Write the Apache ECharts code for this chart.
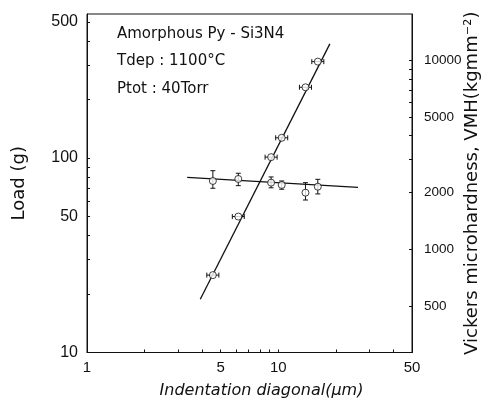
<!DOCTYPE html>
<html>
<head>
<meta charset="utf-8">
<script src="https://cdn.jsdelivr.net/npm/echarts@6/dist/echarts.min.js"></script>
<style>html,body{margin:0;padding:0;background:#fff;}#c{width:488px;height:401px;}</style>
</head>
<body>
<div id="c"></div>
<script>
// ---- data ----
const diagonal = [4.55, 6.18, 9.17, 10.42, 13.87, 16.09];          // indentation diagonal (um)
const diagonalLow = [4.23, 5.75, 8.53, 9.69, 12.9, 14.97];
const diagonalHigh = [4.89, 6.64, 9.86, 11.2, 14.91, 17.3];
const load = [25.0, 50.0, 101, 127, 231, 313];                       // load (g)
const hardness = [2304, 2361, 2257, 2195, 1998, 2149];               // VMH (kg mm^-2)
const hardnessLow = [2108, 2176, 2120, 2083, 1827, 1967];
const hardnessHigh = [2612, 2531, 2420, 2304, 2257, 2351];
const loadFitD = [3.91, 18.6];
const loadFitLoad = [18.8, 386];
const hardFitD = [3.34, 26.1];
const hardFitH = [2410, 2133];

const xTicks = [1,2,3,4,5,6,7,8,9,10,20,30,40,50];
const xLabels = [1,5,10,50];
const leftTicks = [10,20,30,40,50,60,70,80,90,100,200,300,400,500];
const leftLabels = [10,50,100,500];
const rightTicks = [500,1000,2000,3000,4000,5000,6000,7000,8000,9000,10000];
const rightLabels = [500,1000,2000,5000,10000];

const ink = '#111';
const fontFam = 'DejaVu Sans';
const chart = echarts.init(document.getElementById('c'));

function axisCommon(ticks, labels, fontSize, margin) {
  return {
    axisLine: {show: true, lineStyle: {color: ink, width: 1}},
    axisTick: {show: true, inside: true, length: 3, customValues: ticks, lineStyle: {color: ink, width: 1}},
    axisLabel: {customValues: labels, color: ink, fontSize: fontSize, fontFamily: 'Liberation Sans', margin: margin,
      formatter: v => String(Math.round(v))},
    splitLine: {show: false},
    minorTick: {show: false},
    nameMoveOverlap: false
  };
}

const option = {
  animation: false,
  backgroundColor: '#fff',
  grid: {left: 87, right: 76, top: 14, bottom: 48.5, containLabel: false, outerBoundsMode: 'none',
    show: true, borderColor: ink, borderWidth: 1, backgroundColor: 'transparent'},
  xAxis: Object.assign({
    type: 'log', logBase: 10, min: 1, max: 50,
    name: 'Indentation diagonal(μm)', nameLocation: 'middle', nameGap: 30,
    nameTextStyle: {color: ink, fontSize: 16, fontFamily: fontFam, fontStyle: 'italic', padding: [0, 0, 0, 24]}
  }, axisCommon(xTicks, xLabels, 15, 8)),
  yAxis: [
    Object.assign({
      type: 'log', logBase: 10, min: 10, max: 550, position: 'left',
      name: 'Load (g)', nameLocation: 'middle', nameGap: 59, nameRotate: 90,
      nameTextStyle: {color: ink, fontSize: 18, fontFamily: fontFam}
    }, axisCommon(leftTicks, leftLabels, 16, 9)),
    Object.assign({
      type: 'log', logBase: 10, min: 285, max: 17620, position: 'right',
      name: 'Vickers microhardness, VMH(kgmm⁻²)', nameLocation: 'middle', nameGap: 51, nameRotate: 90,
      nameTextStyle: {color: ink, fontSize: 18, fontFamily: fontFam}
    }, axisCommon(rightTicks, rightLabels, 13.5, 12))
  ],
  graphic: [
    {type: 'text', left: 117, top: 27, style: {text: 'Amorphous Py - Si3N4', font: '15px "DejaVu Sans"', fill: ink}},
    {type: 'text', left: 117, top: 54, style: {text: 'Tdep : 1100°C', font: '15px "DejaVu Sans"', fill: ink}},
    {type: 'text', left: 117, top: 82, style: {text: 'Ptot : 40Torr', font: '15px "DejaVu Sans"', fill: ink}}
  ],
  series: [
    {type: 'line', xAxisIndex: 0, yAxisIndex: 0, data: loadFitD.map((d, i) => [d, loadFitLoad[i]]),
     showSymbol: false, lineStyle: {color: ink, width: 1.3}, z: 1},
    {type: 'line', xAxisIndex: 0, yAxisIndex: 1, data: hardFitD.map((d, i) => [d, hardFitH[i]]),
     showSymbol: false, lineStyle: {color: ink, width: 1.3}, z: 1},
    {type: 'custom', xAxisIndex: 0, yAxisIndex: 0, z: 2,
     data: diagonal.map((d, i) => [diagonalLow[i], diagonalHigh[i], load[i]]),
     encode: {x: [0, 1], y: 2},
     renderItem: (params, api) => {
       const a = api.coord([api.value(0), api.value(2)]);
       const b = api.coord([api.value(1), api.value(2)]);
       const c = 2.5, st = {stroke: ink, lineWidth: 1};
       return {type: 'group', children: [
         {type: 'line', shape: {x1: a[0], y1: a[1], x2: b[0], y2: b[1]}, style: st},
         {type: 'line', shape: {x1: a[0], y1: a[1] - c, x2: a[0], y2: a[1] + c}, style: st},
         {type: 'line', shape: {x1: b[0], y1: b[1] - c, x2: b[0], y2: b[1] + c}, style: st}
       ]};
     }},
    {type: 'custom', xAxisIndex: 0, yAxisIndex: 1, z: 2,
     data: diagonal.map((d, i) => [d, hardnessLow[i], hardnessHigh[i]]),
     encode: {x: 0, y: [1, 2]},
     renderItem: (params, api) => {
       const a = api.coord([api.value(0), api.value(1)]);
       const b = api.coord([api.value(0), api.value(2)]);
       const c = 2.5, st = {stroke: ink, lineWidth: 1};
       return {type: 'group', children: [
         {type: 'line', shape: {x1: a[0], y1: a[1], x2: b[0], y2: b[1]}, style: st},
         {type: 'line', shape: {x1: a[0] - c, y1: a[1], x2: a[0] + c, y2: a[1]}, style: st},
         {type: 'line', shape: {x1: b[0] - c, y1: b[1], x2: b[0] + c, y2: b[1]}, style: st}
       ]};
     }},
    {type: 'scatter', xAxisIndex: 0, yAxisIndex: 0, z: 3, symbol: 'circle', symbolSize: 7,
     data: diagonal.map((d, i) => [d, load[i]]),
     itemStyle: {color: '#fff', borderColor: ink, borderWidth: 1}},
    {type: 'scatter', xAxisIndex: 0, yAxisIndex: 1, z: 3, symbol: 'circle', symbolSize: 7,
     data: diagonal.map((d, i) => [d, hardness[i]]),
     itemStyle: {color: '#fff', borderColor: ink, borderWidth: 1}}
  ]
};
chart.setOption(option);
</script>
</body>
</html>
